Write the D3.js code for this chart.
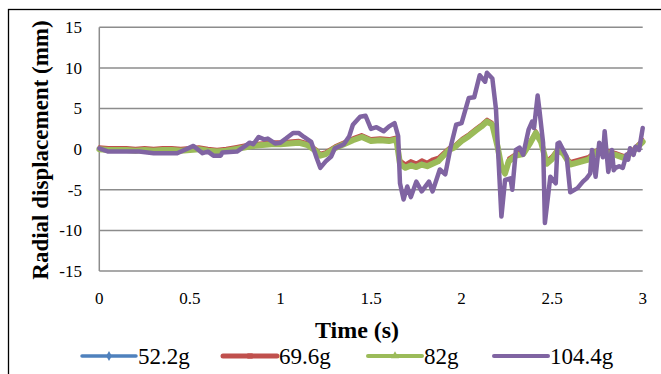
<!DOCTYPE html>
<html>
<head>
<meta charset="utf-8">
<script src="https://cdn.jsdelivr.net/npm/d3@7/dist/d3.min.js"></script>
<style>
  body { margin: 0; background: #fff; }
  svg { display: block; }
</style>
</head>
<body>
<div id="chart"></div>
<script>
// time grid shared by the three lighter loads
const baseTime = [0, 0.05, 0.1, 0.15, 0.2, 0.25, 0.3, 0.35, 0.4, 0.45, 0.5, 0.55, 0.6, 0.65, 0.7, 0.75,
  0.8, 0.85, 0.9, 0.95, 1.0, 1.05, 1.1, 1.15, 1.2, 1.22, 1.25, 1.3, 1.35, 1.4, 1.45, 1.5, 1.55, 1.6,
  1.64, 1.66, 1.69, 1.72, 1.75, 1.78, 1.81, 1.84, 1.87, 1.9, 1.93, 1.96, 2.0, 2.04, 2.08, 2.11, 2.14,
  2.17, 2.2, 2.22, 2.24, 2.26, 2.3, 2.34, 2.38, 2.41, 2.44, 2.47, 2.5, 2.53, 2.56, 2.6, 2.65, 2.7,
  2.75, 2.8, 2.85, 2.9, 2.95, 3.0];

const load52 = [0.1, 0.0, 0.0, 0.0, -0.1, 0.0, -0.1, 0.0, 0.0, -0.1, 0.0, 0.1, -0.1, -0.2, -0.1, 0.1,
  0.3, 0.5, 0.6, 0.7, 0.7, 0.8, 0.9, 0.6, -0.2, -0.7, -0.5, 0.2, 0.7, 1.2, 1.6, 1.1, 1.2, 1.1,
  1.3, -1.5, -2.0, -1.6, -1.9, -1.5, -1.8, -1.4, -1.2, -0.6, 0.0, 0.3, 1.1, 1.7, 2.4, 2.9, 3.2,
  3.1, 0.3, -2.0, -2.8, -1.3, -0.7, -0.5, 0.9, 2.1, 0.9, -1.6, -1.0, 0.0, -0.4, -1.7, -1.4, -1.1,
  -0.2, -0.3, -0.6, -1.0, -0.1, 1.0];

const load69 = [0.3, 0.2, 0.2, 0.2, 0.1, 0.2, 0.1, 0.2, 0.2, 0.1, 0.2, 0.3, 0.1, 0.0, 0.1, 0.3,
  0.5, 0.7, 0.8, 0.9, 0.9, 1.0, 1.1, 0.8, 0.0, -0.5, -0.3, 0.4, 0.9, 1.4, 1.8, 1.3, 1.4, 1.3,
  1.5, -1.3, -1.8, -1.4, -1.7, -1.3, -1.6, -1.2, -1.0, -0.4, 0.2, 0.5, 1.3, 1.9, 2.6, 3.1, 3.7,
  3.3, 0.5, -1.8, -2.6, -1.1, -0.5, -0.3, 1.1, 2.3, 1.1, -1.4, -0.8, 0.1, -0.2, -1.5, -1.2, -0.9,
  0.0, -0.1, -0.4, -0.8, 0.1, 1.2];

const load82 = [0.0, -0.1, -0.1, -0.1, -0.2, -0.1, -0.2, -0.1, -0.1, -0.2, -0.1, 0.0, -0.2, -0.3, -0.2, 0.0,
  0.2, 0.4, 0.5, 0.6, 0.6, 0.7, 0.8, 0.5, -0.3, -0.8, -0.6, 0.1, 0.6, 1.1, 1.5, 1.0, 1.1, 1.0,
  1.2, -1.8, -2.3, -2.0, -2.2, -1.9, -2.1, -1.8, -1.5, -0.8, -0.1, 0.2, 1.0, 1.6, 2.3, 2.8, 3.4,
  3.0, 0.2, -2.2, -3.0, -1.5, -0.8, -0.6, 0.8, 2.0, 0.8, -1.8, -1.2, -0.2, -0.5, -1.9, -1.6, -1.3,
  -0.3, -0.4, -0.7, -1.1, -0.2, 0.9];

// heaviest load, its own sample times
const heavyTime = [0, 0.05, 0.22, 0.3, 0.43, 0.52, 0.57, 0.6, 0.63, 0.67, 0.68, 0.76, 0.8, 0.83, 0.85,
  0.88, 0.91, 0.93, 0.97, 1.0, 1.03, 1.07, 1.1, 1.13, 1.15, 1.17, 1.2, 1.22, 1.25, 1.28, 1.3, 1.35,
  1.38, 1.4, 1.44, 1.47, 1.5, 1.53, 1.57, 1.6, 1.63, 1.65, 1.66, 1.68, 1.7, 1.72, 1.75, 1.78, 1.82,
  1.84, 1.88, 1.91, 1.94, 1.97, 2.0, 2.04, 2.07, 2.1, 2.13, 2.14, 2.17, 2.19, 2.22, 2.24, 2.27,
  2.28, 2.3, 2.32, 2.34, 2.37, 2.39, 2.4, 2.42, 2.43, 2.45, 2.46, 2.49, 2.52, 2.53, 2.54, 2.58,
  2.6, 2.64, 2.67, 2.69, 2.71, 2.72, 2.74, 2.76, 2.78, 2.79, 2.81, 2.83, 2.84, 2.85, 2.87, 2.89,
  2.91, 2.92, 2.93, 2.95, 2.96, 2.98, 3.0];

const load104 = [0.1, -0.3, -0.3, -0.5, -0.5, 0.4, -0.5, -0.3, -0.8, -0.8, -0.4, -0.3, 0.3, 0.8, 0.6,
  1.5, 1.2, 1.3, 0.7, 0.8, 1.3, 2.0, 2.0, 1.5, 1.2, 0.9, -1.1, -2.3, -1.5, -0.9, 0.1, 0.6,
  1.6, 3.0, 4.0, 4.1, 2.5, 2.7, 2.2, 2.8, 3.2, 1.6, -4.2, -6.2, -4.6, -5.9, -4.0, -5.2, -4.0,
  -5.2, -2.5, -3.1, 0.3, 3.0, 3.2, 6.3, 6.4, 9.1, 8.3, 9.4, 8.7, 4.9, -8.3, -3.8, -3.6,
  -5.0, -0.1, 0.2, -0.7, 2.4, 3.4, 2.6, 6.6, 4.8, 0.8, -9.1, -3.4, -4.2, 0.7, 0.8, -0.9,
  -5.3, -4.8, -4.0, -3.6, -3.0, -0.1, -3.4, 0.8, -1.0, 2.2, -2.8, -0.1, -2.6, -2.3, -2.1, -2.3,
  -0.7, -1.3, 0.1, -0.7, 0.3, -0.1, 2.6];

const seriesNames = ['52.2g', '69.6g', '82g', '104.4g'];
const seriesColors = ['#4F81BD', '#C0504D', '#9BBB59', '#8064A2'];
const xTicks = [0, 0.5, 1, 1.5, 2, 2.5, 3];
const yTicks = [-15, -10, -5, 0, 5, 10, 15];

const W = 661, H = 374;
const plot = { left: 99.3, right: 642.7, top: 27.3, bottom: 271 };

const svg = d3.select('#chart').append('svg')
  .attr('width', W)
  .attr('height', H);

// outer frame of the chart
svg.append('rect')
  .attr('x', 8.5).attr('y', 9.5)
  .attr('width', W).attr('height', H)
  .attr('fill', 'none')
  .attr('stroke', '#000')
  .attr('stroke-width', 1.3);

const x = d3.scaleLinear().domain([0, 3]).range([plot.left, plot.right]);
const y = d3.scaleLinear().domain([-15, 15]).range([plot.bottom, plot.top]);

// horizontal gridlines
svg.append('g')
  .selectAll('line')
  .data(yTicks)
  .join('line')
  .attr('x1', plot.left).attr('x2', plot.right)
  .attr('y1', d => y(d)).attr('y2', d => y(d))
  .attr('stroke', '#8c8c8c')
  .attr('stroke-width', 1.5);

// vertical axis line
svg.append('line')
  .attr('x1', plot.left).attr('x2', plot.left)
  .attr('y1', plot.top).attr('y2', plot.bottom)
  .attr('stroke', '#8c8c8c')
  .attr('stroke-width', 1.5);

const font = '"Liberation Serif", "Times New Roman", serif';

svg.append('g')
  .selectAll('text')
  .data(yTicks)
  .join('text')
  .attr('x', 82)
  .attr('y', d => y(d))
  .attr('dy', '0.35em')
  .attr('text-anchor', 'end')
  .attr('font-family', font)
  .attr('font-size', 17)
  .text(d => d);

svg.append('g')
  .selectAll('text')
  .data(xTicks)
  .join('text')
  .attr('x', d => x(d))
  .attr('y', 298)
  .attr('dy', '0.35em')
  .attr('text-anchor', 'middle')
  .attr('font-family', font)
  .attr('font-size', 17)
  .text(d => d);

svg.append('text')
  .attr('x', 357).attr('y', 330)
  .attr('dy', '0.35em')
  .attr('text-anchor', 'middle')
  .attr('font-family', font)
  .attr('font-weight', 'bold')
  .attr('font-size', 24)
  .text('Time (s)');

svg.append('text')
  .attr('transform', 'translate(40,150) rotate(-90)')
  .attr('dy', '0.35em')
  .attr('text-anchor', 'middle')
  .attr('font-family', font)
  .attr('font-weight', 'bold')
  .attr('font-size', 23)
  .text('Radial displacement (mm)');

const line = d3.line()
  .x(d => x(d[0]))
  .y(d => y(d[1]));

const seriesData = [
  baseTime.map((t, i) => [t, load52[i]]),
  baseTime.map((t, i) => [t, load69[i]]),
  baseTime.map((t, i) => [t, load82[i]]),
  heavyTime.map((t, i) => [t, load104[i]])
];
const widths = [2.5, 3, 6, 4.5];

svg.append('g')
  .selectAll('path')
  .data(seriesData)
  .join('path')
  .attr('fill', 'none')
  .attr('stroke', (d, i) => seriesColors[i])
  .attr('stroke-width', (d, i) => widths[i])
  .attr('stroke-linejoin', 'round')
  .attr('stroke-linecap', 'round')
  .attr('d', line);

// legend
const legendX = [82, 223, 368, 494];
const legendWidths = [3.5, 5, 4, 4];
const legendMarks = [d3.symbolDiamond, d3.symbolSquare, d3.symbolTriangle, null];
const legend = svg.append('g')
  .selectAll('g')
  .data(seriesNames)
  .join('g')
  .attr('transform', (d, i) => `translate(${legendX[i]},356)`);

legend.append('line')
  .attr('x1', 0).attr('x2', 54)
  .attr('stroke', (d, i) => seriesColors[i])
  .attr('stroke-width', (d, i) => legendWidths[i])
  .attr('stroke-linecap', 'round');

legend.filter((d, i) => legendMarks[i])
  .append('path')
  .attr('transform', 'translate(27,0)')
  .attr('d', (d, i) => d3.symbol(legendMarks[seriesNames.indexOf(d)], 28)())
  .attr('fill', d => seriesColors[seriesNames.indexOf(d)]);

legend.append('text')
  .attr('x', 56)
  .attr('dy', '0.35em')
  .attr('font-family', font)
  .attr('font-size', 23)
  .text(d => d);
</script>
</body>
</html>
